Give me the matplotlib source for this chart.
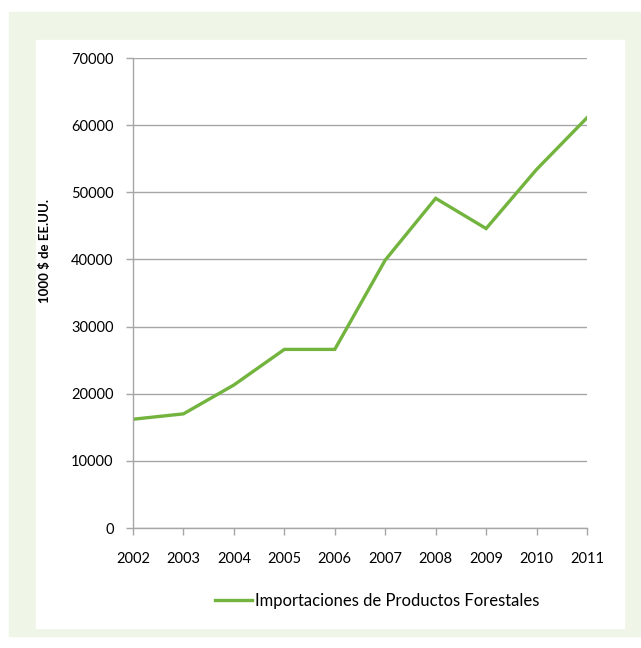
import matplotlib.pyplot as plt
from matplotlib.patches import Rectangle

years = [2002, 2003, 2004, 2005, 2006, 2007, 2008, 2009, 2010, 2011]
imports = [16200, 17000, 21300, 26600, 26600, 39900, 49100, 44600, 53400, 61100]
series_name = 'Importaciones de Productos Forestales'
y_label = '1000 $ de EE.UU.'

plt.rcParams['font.family'] = ['Lato', 'DejaVu Sans']

W, H = 641, 648
fig = plt.figure(figsize=(W / 100, H / 100), dpi=100)

# green frame and white panel behind the chart
fig.patches.append(Rectangle((9 / W, 12 / H), (W - 9) / W, 624 / H,
                             transform=fig.transFigure, color='#eff5e7', zorder=-2))
fig.patches.append(Rectangle((36 / W, 20 / H), 588 / W, 588 / H,
                             transform=fig.transFigure, color='white', zorder=-1))

ax = fig.add_axes([133 / W, 120 / H, 454 / W, 470 / H])
ax.patch.set_alpha(0)

line, = ax.plot(years, imports, color='#72b43e', linewidth=2.4,
                solid_joinstyle='miter', label=series_name)

ax.set_xlim(years[0], years[-1])
ax.set_ylim(0, 70000)
ax.set_xticks(years)
ax.set_yticks(range(0, 70001, 10000))
ax.grid(axis='y', color='#a6a6a6', linewidth=1)
ax.set_axisbelow(True)

for s in ['top', 'right']:
    ax.spines[s].set_visible(False)
for s in ['left', 'bottom']:
    ax.spines[s].set_color('#a6a6a6')
    ax.spines[s].set_linewidth(1)
ax.tick_params(colors='#a6a6a6', labelcolor='black', labelsize=10.5, length=5, width=1)
ax.tick_params(axis='x', pad=12)
ax.tick_params(axis='y', pad=9)

ax.set_ylabel(y_label, fontsize=9.5, fontweight='bold')
ax.yaxis.set_label_coords(-0.18, 0.59)

fig.legend(handles=[line], loc='center', bbox_to_anchor=(377 / W, 1 - 601 / H),
           frameon=False, fontsize=12, handlelength=2.2, handletextpad=0.18)

fig.savefig('out.png', dpi=100)
